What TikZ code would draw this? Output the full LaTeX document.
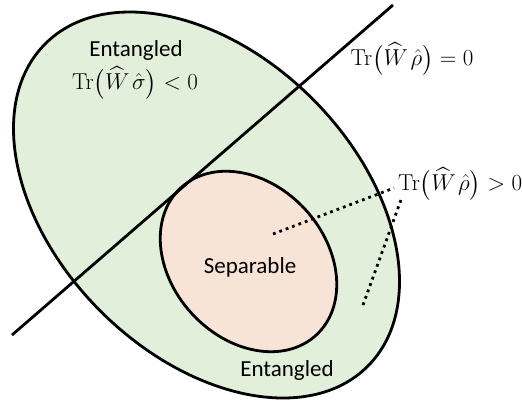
\RequirePackage{fix-cm}
\documentclass[tikz,border=0pt]{standalone}
\usepackage{amsmath}
\usepackage[no-math]{fontspec}
\setmainfont{Carlito}
\definecolor{outerfill}{RGB}{226,239,218}
\definecolor{innerfill}{RGB}{248,228,215}
\begin{document}
\begin{tikzpicture}[x=1pt,y=-1pt,
  region/.style={draw=black,line width=2.8pt},
  wline/.style={draw=black,line width=2.8pt},
  dotline/.style={draw=black,line width=2.8pt,dash pattern=on 2.8pt off 4pt},
  lbl/.style={inner sep=0pt,font=\fontsize{23}{27}\selectfont},
  mlbl/.style={inner sep=0pt,font=\fontsize{23}{27}\selectfont}]
\useasboundingbox (0,0) rectangle (522,402);
% outer region
\coordinate (oc) at (206.5,205);
\path[region,fill=outerfill,rotate around={-45:(oc)}] (oc) ellipse [x radius=228pt,y radius=150pt];
% inner region
\coordinate (ic) at (248.5,261.5);
\path[region,fill=innerfill,rotate around={-47.5:(ic)}] (ic) ellipse [x radius=100pt,y radius=77pt];
% hyperplane
\coordinate (h1) at (12,335);
\coordinate (h2) at (393,5);
\draw[wline] (h1) -- (h2);
% labels
\node[lbl] (ent1) at (136,50) {Entangled};
\node[mlbl] (neg) at (135,83) {$\mathrm{Tr}\bigl(\widehat{W}\mkern2mu\hat{\sigma}\bigr) < 0$};
\node[mlbl] (zero) at (412,59) {$\mathrm{Tr}\bigl(\widehat{W}\mkern2mu\hat{\rho}\bigr) = 0$};
\node[mlbl,anchor=west] (pos) at (398,184) {$\mathrm{Tr}\bigl(\widehat{W}\mkern2mu\hat{\rho}\bigr) > 0$};
\node[lbl] (sep) at (250,267) {Separable};
\node[lbl] (ent2) at (287,370) {Entangled};
% dotted pointers
\coordinate (p1) at (273,234);
\coordinate (e1) at (394,188);
\coordinate (p2) at (363,305);
\coordinate (e2) at (402,197);
\draw[dotline] (p1) -- (e1);
\draw[dotline] (p2) -- (e2);
\end{tikzpicture}
\end{document}
